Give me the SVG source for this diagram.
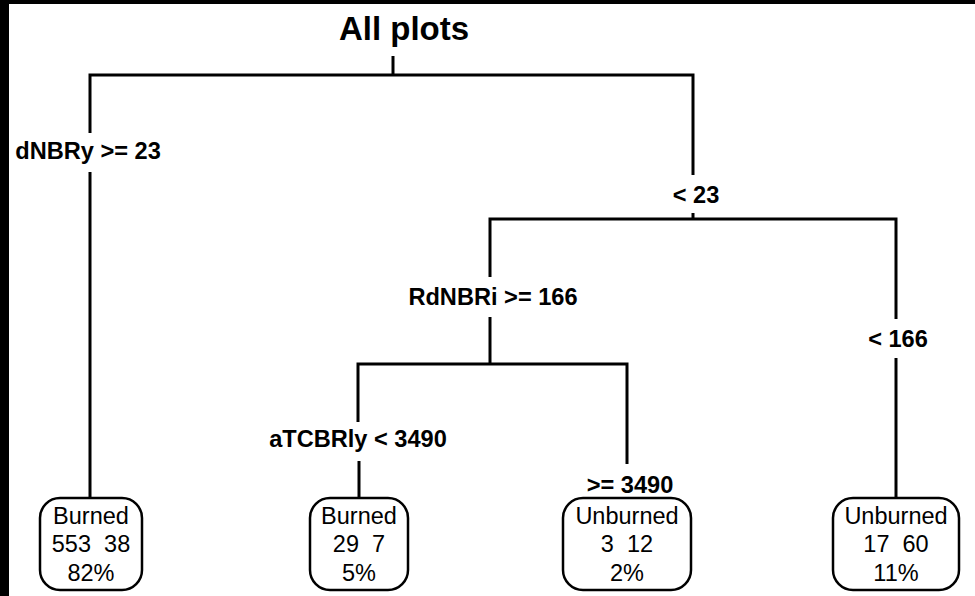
<svg xmlns="http://www.w3.org/2000/svg" width="975" height="596" viewBox="0 0 975 596">
<style>
.edge{fill:none;stroke:#000;stroke-width:3;stroke-linecap:butt;stroke-linejoin:miter}
.box{fill:#fff;stroke:#000;stroke-width:2.5}
.lbl{font-family:"Liberation Sans",Arial,sans-serif;font-weight:bold;font-size:23.6px;text-anchor:middle;fill:#000}
.title{font-family:"Liberation Sans",Arial,sans-serif;font-weight:bold;font-size:33px;text-anchor:middle;fill:#000}
.leaf{font-family:"Liberation Sans",Arial,sans-serif;font-size:23.5px;text-anchor:middle;fill:#000;white-space:pre}
</style>
<rect x="0" y="0" width="975" height="596" fill="#fff"/>
<rect x="0" y="0" width="9" height="596" fill="#000"/>
<rect x="0" y="0" width="975" height="4" fill="#000"/>
<g id="connectors">
<path class="edge" d="M393,56 V75"/>
<path class="edge" d="M90,133 V75 H693 V175"/>
<path class="edge" d="M90,172 V498"/>
<path class="edge" d="M693,213 V219"/>
<path class="edge" d="M490,277 V219 H896 V319"/>
<path class="edge" d="M896,358 V498"/>
<path class="edge" d="M490,317 V364"/>
<path class="edge" d="M358,422 V364 H627 V464"/>
<path class="edge" d="M359,461 V498"/>
</g>
<g id="root"><text class="title" x="404" y="40">All plots</text></g>
<g id="split1-left"><text class="lbl" x="88" y="159">dNBRy &gt;= 23</text></g>
<g id="split1-right"><text class="lbl" x="696" y="203">&lt; 23</text></g>
<g id="split2-left"><text class="lbl" x="493" y="305">RdNBRi &gt;= 166</text></g>
<g id="split2-right"><text class="lbl" x="898" y="347">&lt; 166</text></g>
<g id="split3-left"><text class="lbl" x="358" y="447">aTCBRly &lt; 3490</text></g>
<g id="split3-right"><text class="lbl" x="630" y="493">&gt;= 3490</text></g>
<g id="leaf1">
<rect class="box" x="40" y="498" width="102" height="92" rx="20" ry="20"/>
<text class="leaf" x="91" y="524">Burned</text>
<text class="leaf" x="91" y="552" xml:space="preserve">553  38</text>
<text class="leaf" x="91" y="581">82%</text>
</g>
<g id="leaf2">
<rect class="box" x="310" y="498" width="98" height="92" rx="20" ry="20"/>
<text class="leaf" x="359" y="524">Burned</text>
<text class="leaf" x="359" y="552" xml:space="preserve">29  7</text>
<text class="leaf" x="359" y="581">5%</text>
</g>
<g id="leaf3">
<rect class="box" x="563" y="498" width="128" height="92" rx="20" ry="20"/>
<text class="leaf" x="627" y="524">Unburned</text>
<text class="leaf" x="627" y="552" xml:space="preserve">3  12</text>
<text class="leaf" x="627" y="581">2%</text>
</g>
<g id="leaf4">
<rect class="box" x="833" y="498" width="126" height="92" rx="20" ry="20"/>
<text class="leaf" x="896" y="524">Unburned</text>
<text class="leaf" x="896" y="552" xml:space="preserve">17  60</text>
<text class="leaf" x="896" y="581">11%</text>
</g>
</svg>
